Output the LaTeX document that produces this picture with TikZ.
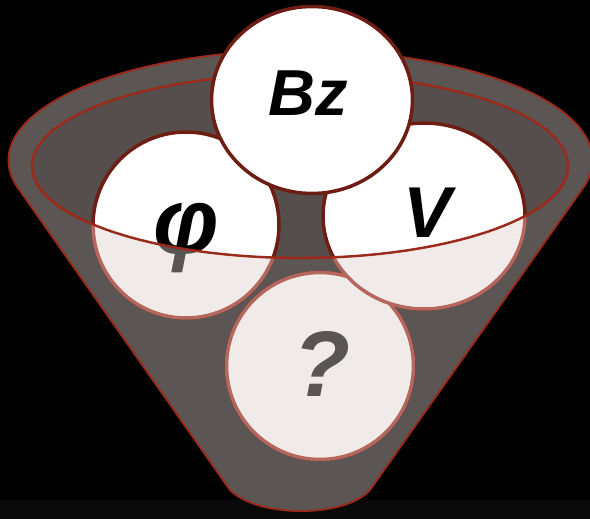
\documentclass[tikz,border=0pt]{standalone}
\usepackage{fontspec}
\setmainfont{Liberation Sans}
\usetikzlibrary{shapes.geometric}
\definecolor{FunnelFill}{HTML}{5B5553}
\definecolor{RimFill}{HTML}{564E4C}
\definecolor{FunnelEdge}{HTML}{9A2A1C}
\definecolor{BallEdge}{HTML}{6E1D13}
\definecolor{SunkFill}{HTML}{F0EBE9}
\definecolor{SunkEdge}{HTML}{B5675E}
\definecolor{SunkInk}{HTML}{5A5452}
\definecolor{Floor}{HTML}{090909}

\begin{document}
\begin{tikzpicture}[x=0.02cm,y=-0.02cm,
  ball/.style={ellipse,inner sep=0pt,draw=BallEdge,line width=2pt,fill=white},
  sunk/.style={ellipse,inner sep=0pt,draw=SunkEdge,line width=2pt,fill=SunkFill},
  sym/.style={anchor=base,inner sep=0pt,font=\bfseries\itshape\fontsize{37}{37}\selectfont},
  midsym/.style={sym,font=\bfseries\itshape\fontsize{41}{41}\selectfont},
  bigsym/.style={sym,font=\bfseries\itshape\fontsize{53}{53}\selectfont}]
\useasboundingbox (0,0) rectangle (590,519);
\fill[black] (0,0) rectangle (590,519);
\fill[Floor] (0,500) rectangle (590,519);
% funnel body and rim
\draw[FunnelEdge,line width=1.1pt,fill=FunnelFill] (16,185) arc[start angle=167,end angle=373,x radius=292,y radius=110] -- (370,490) .. controls (345,518) and (258,518) .. (230,490) -- cycle;
\draw[FunnelEdge,line width=1.4pt,fill=RimFill] (300,166) ellipse[x radius=268,y radius=92];
% balls
\node[ball,minimum width=3.72cm,minimum height=3.72cm] (phi) at (186,225) {};
\node[bigsym] (phit) at (186,254) {φ};
\node[ball,minimum width=3.74cm,minimum height=3.74cm] (ask) at (320,366) {};
\node[bigsym] (askt) at (322,396) {?};
\node[ball,minimum width=4.04cm,minimum height=3.72cm] (vel) at (424,216) {};
\node[midsym] (velt) at (428,238) {V};
\node[ball,minimum width=4.02cm,minimum height=3.74cm] (bz) at (312,100) {};
\node[sym] (bzt) at (308,116) {Bz};
% front of the funnel
\begin{scope}
\clip (32,166) arc[start angle=180,end angle=0,x radius=268,y radius=92] -- (600,166) -- (600,530) -- (-10,530) -- (-10,166) -- cycle;
\node[sunk,minimum width=3.72cm,minimum height=3.72cm] (phis) at (phi) {};
\node[bigsym,text=SunkInk] (phist) at (186,254) {φ};
\node[sunk,minimum width=3.74cm,minimum height=3.74cm] (asks) at (ask) {};
\node[bigsym,text=SunkInk] (askst) at (322,396) {?};
\node[sunk,minimum width=4.04cm,minimum height=3.72cm] (vels) at (vel) {};
\node[midsym,text=SunkInk] (velst) at (428,238) {V};
\end{scope}
\draw[FunnelEdge,line width=1.4pt] (32,166) arc[start angle=180,end angle=0,x radius=268,y radius=92];
\end{tikzpicture}
\end{document}
